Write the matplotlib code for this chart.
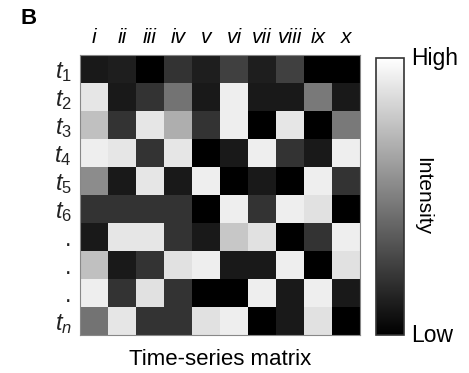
import numpy as np
import matplotlib
matplotlib.use('Agg')
import matplotlib.pyplot as plt

plt.rcParams['font.family'] = ['Liberation Sans', 'DejaVu Sans']
plt.rcParams['mathtext.fontset'] = 'custom'
plt.rcParams['mathtext.rm'] = 'Liberation Sans'
plt.rcParams['mathtext.it'] = 'Liberation Sans:italic'

# column labels and row labels
cols = ['i', 'ii', 'iii', 'iv', 'v', 'vi', 'vii', 'viii', 'ix', 'x']
rows = [r'$t_\mathit{1}$', r'$t_\mathit{2}$', r'$t_\mathit{3}$', r'$t_\mathit{4}$',
        r'$t_\mathit{5}$', r'$t_\mathit{6}$', '.', '.', '.', r'$t_n$']

# intensity per cell (0 = low / black, 1 = high / white)
t1 = [0.10, 0.12, 0.00, 0.20, 0.12, 0.25, 0.12, 0.25, 0.00, 0.00]
t2 = [0.90, 0.10, 0.20, 0.45, 0.10, 0.93, 0.10, 0.10, 0.48, 0.10]
t3 = [0.75, 0.20, 0.90, 0.68, 0.20, 0.93, 0.00, 0.90, 0.00, 0.48]
t4 = [0.93, 0.90, 0.20, 0.90, 0.00, 0.10, 0.93, 0.20, 0.10, 0.93]
t5 = [0.55, 0.10, 0.90, 0.10, 0.93, 0.00, 0.10, 0.00, 0.93, 0.20]
t6 = [0.20, 0.20, 0.20, 0.20, 0.00, 0.93, 0.20, 0.93, 0.88, 0.00]
t7 = [0.10, 0.90, 0.90, 0.20, 0.10, 0.78, 0.88, 0.00, 0.20, 0.93]
t8 = [0.75, 0.10, 0.20, 0.88, 0.93, 0.10, 0.10, 0.93, 0.00, 0.88]
t9 = [0.93, 0.20, 0.88, 0.20, 0.00, 0.00, 0.93, 0.10, 0.93, 0.10]
tn = [0.45, 0.90, 0.20, 0.20, 0.88, 0.93, 0.00, 0.10, 0.88, 0.00]

matrix = np.array([t1, t2, t3, t4, t5, t6, t7, t8, t9, tn])

fig = plt.figure(figsize=(4.69, 3.73), dpi=100)
ax = fig.add_axes([80/469, 38/373, 280/469, 280/373])
im = ax.imshow(matrix, cmap='gray', vmin=0, vmax=1, aspect='auto')

ax.xaxis.tick_top()
ax.set_xticks(range(len(cols)))
ax.set_xticklabels(cols, fontsize=15, style='italic')
ax.set_yticks(range(len(rows)))
ax.set_yticklabels(rows, fontsize=17, color='#222222')
ax.tick_params(length=0, pad=6)
for s in ax.spines.values():
    s.set_color('#888888')
    s.set_linewidth(0.8)
ax.set_xlabel('Time-series matrix', fontsize=16, labelpad=10)

# colour bar
cax = fig.add_axes([376/469, 38/373, 28/469, 277/373])
cb = fig.colorbar(im, cax=cax)
cb.set_ticks([])
cb.outline.set_edgecolor('#333333')
cb.outline.set_linewidth(1.2)
cax.text(1.25, 1.0, 'High', transform=cax.transAxes, fontsize=16.5, va='center', ha='left')
cax.text(1.25, 0.0, 'Low', transform=cax.transAxes, fontsize=16.5, va='center', ha='left')
cax.text(1.68, 0.5, 'Intensity', transform=cax.transAxes, fontsize=15,
         rotation=-90, va='center', ha='center')

fig.text(0.043, 0.95, 'B', fontsize=16, fontweight='bold', ha='left', va='center')

fig.savefig('out.png', dpi=100)
